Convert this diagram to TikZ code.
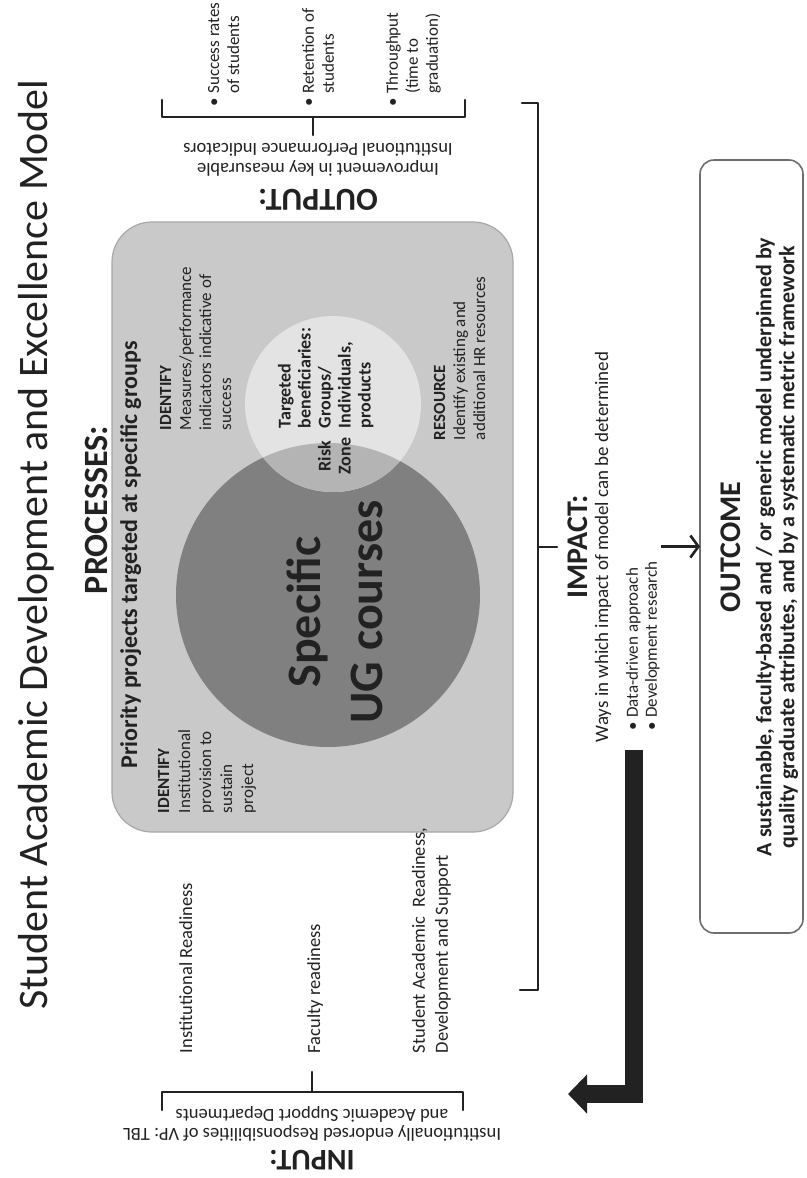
\documentclass[tikz,border=0pt]{standalone}
\usepackage{fontspec}
\setmainfont{Carlito}
\usetikzlibrary{arrows.meta}
\definecolor{ink}{HTML}{222222}
\definecolor{boxfill}{HTML}{C9C9C9}
\definecolor{boxline}{HTML}{A8A8A8}
\definecolor{darkc}{HTML}{808080}
\definecolor{lightc}{HTML}{E3E3E3}
\definecolor{midc}{HTML}{B4B4B4}
\definecolor{outline}{HTML}{6E6E6E}
\newcommand\setfs[2]{\fontsize{#1}{#2}\selectfont}
\begin{document}
\begin{tikzpicture}[x=1pt,y=-1pt,
  every node/.style={inner sep=0pt,outer sep=0pt,text=ink},
  vtxt/.style={rotate=90},
  utxt/.style={rotate=180},
  brk/.style={draw=ink,line width=2.6pt,line cap=round,line join=round},
  smalltxt/.style={font=\setfs{17}{20}},
  labeltxt/.style={font=\setfs{18.5}{22}}]
\useasboundingbox (0,0) rectangle (806,1178);
\fill[white] (0,0) rectangle (806,1178);

% title and processes
\node[vtxt,anchor=base,font=\setfs{42}{50}] (title) at (47,545) {Student Academic Development and Excellence Model};
\node[vtxt,anchor=base,font=\bfseries\setfs{34}{40}] (proc) at (107,510) {PROCESSES:};
\node[draw=boxline,fill=boxfill,line width=1.2pt,rounded corners=40pt,minimum width=401pt,minimum height=610pt] (pbox) at (312.5,527) {};

% circles
\node[circle,fill=darkc,minimum size=304pt] (ugc) at (328,595) {};
\node[circle,fill=lightc,minimum size=176pt] (tgc) at (333,404) {};
\begin{scope}
\clip (328,595) circle[radius=152pt];
\fill[midc] (333,404) circle[radius=88pt];
\end{scope}

\node[vtxt,anchor=base,font=\bfseries\setfs{24}{30}] (prio) at (137,555) {Priority projects targeted at specific groups};
\node[vtxt,anchor=north west,align=left,smalltxt] (idtop) at (160,430) {\textbf{IDENTIFY}\\Measures/performance\\indicators indicative of\\success};
\node[vtxt,anchor=north west,align=left,font=\setfs{17}{21}] (idbot) at (158,813) {\textbf{IDENTIFY}\\Institutional\\provision to\\sustain\\project};
\node[vtxt,align=center,font=\bfseries\setfs{48}{62}] (ug) at (335,612) {Specific\\UG courses};
\node[vtxt,anchor=north west,align=left,font=\bfseries\setfs{18}{20}] (tgt) at (278,428) {Targeted\\beneficiaries:\\Groups/\\Individuals,\\products};
\node[vtxt,anchor=north,align=center,font=\bfseries\setfs{18}{20}] (risk) at (318,456) {Risk\\Zone};
\node[vtxt,anchor=north west,align=left,smalltxt] (res) at (434,440) {\textbf{RESOURCE}\\Identify existing and\\additional HR resources};

% input
\node[vtxt,anchor=base west,labeltxt] (inst) at (192,1053) {Institutional Readiness};
\node[vtxt,anchor=base west,labeltxt] (fac) at (320,1053) {Faculty readiness};
\node[vtxt,anchor=north west,align=left,font=\setfs{18.5}{23}] (stud) at (412,1053) {Student Academic\enspace Readiness,\\Development and Support};
\draw[brk] (162,1110) -- (162,1092) -- (463,1092) -- (463,1110);
\draw[brk] (312,1092) -- (312,1072);
\node[utxt,align=center,font=\setfs{18.5}{19}] (intext) at (312,1124) {Institutionally endorsed Responsibilities of VP: TBL\\and Academic Support Departments};
\node[utxt,font=\bfseries\setfs{30}{34}] (inlabel) at (312,1160) {INPUT:};

% output
\node[utxt,font=\bfseries\setfs{32}{36}] (outlabel) at (318,200) {OUTPUT:};
\node[utxt,align=center,font=\setfs{18.5}{20}] (outtext) at (318,160) {Improvement in key measurable\\Institutional Performance Indicators};
\draw[brk] (162,100) -- (162,117) -- (465,117) -- (465,100);
\draw[brk] (313,117) -- (313,135);
\node[vtxt,anchor=north west,align=left,smalltxt] (b1) at (208,106) {\textbullet~Success rates\\\phantom{\textbullet~}of students};
\node[vtxt,anchor=north west,align=left,smalltxt] (b2) at (302,106) {\textbullet~Retention of\\\phantom{\textbullet~}students};
\node[vtxt,anchor=north west,align=left,smalltxt] (b3) at (386,106) {\textbullet~Throughput\\\phantom{\textbullet~}(time to\\\phantom{\textbullet~}graduation)};

% big bracket
\draw[brk] (522,103) -- (538,103) -- (538,990) -- (520,990);
\draw[brk] (538,547) -- (557,547);

% impact
\node[vtxt,anchor=base,font=\bfseries\setfs{30}{34}] (imp) at (587,547) {IMPACT:};
\node[vtxt,anchor=base,font=\setfs{19}{22}] (ways) at (608,547) {Ways in which impact of model can be determined};
\node[vtxt,anchor=north west,align=left,font=\setfs{17}{19}] (impb) at (626,730) {\textbullet~Data-driven approach\\\textbullet~Development research};

% outcome
\node[draw=outline,line width=1.6pt,rounded corners=14pt,minimum width=103pt,minimum height=773pt] (outbox) at (751.5,546.5) {};
\node[vtxt,anchor=base,font=\bfseries\setfs{30}{34}] (oc) at (740,547) {OUTCOME};
\node[vtxt,align=center,font=\bfseries\setfs{22}{23}] (octext) at (777,547) {A sustainable, faculty-based and / or generic model underpinned by\\quality graduate attributes, and by a systematic metric framework};

\coordinate (arrS) at (661,546.5);
\draw[ink,line width=2.6pt,-{Straight Barb[length=8pt,width=22pt]}] (arrS) -- (outbox.west);

\coordinate (fbS) at (634,750);
\coordinate (fbE) at (568,1094);
\draw[draw=ink,line width=18pt,-{Triangle[length=19pt,width=38pt]}] (fbS) |- (fbE);
\end{tikzpicture}
\end{document}
